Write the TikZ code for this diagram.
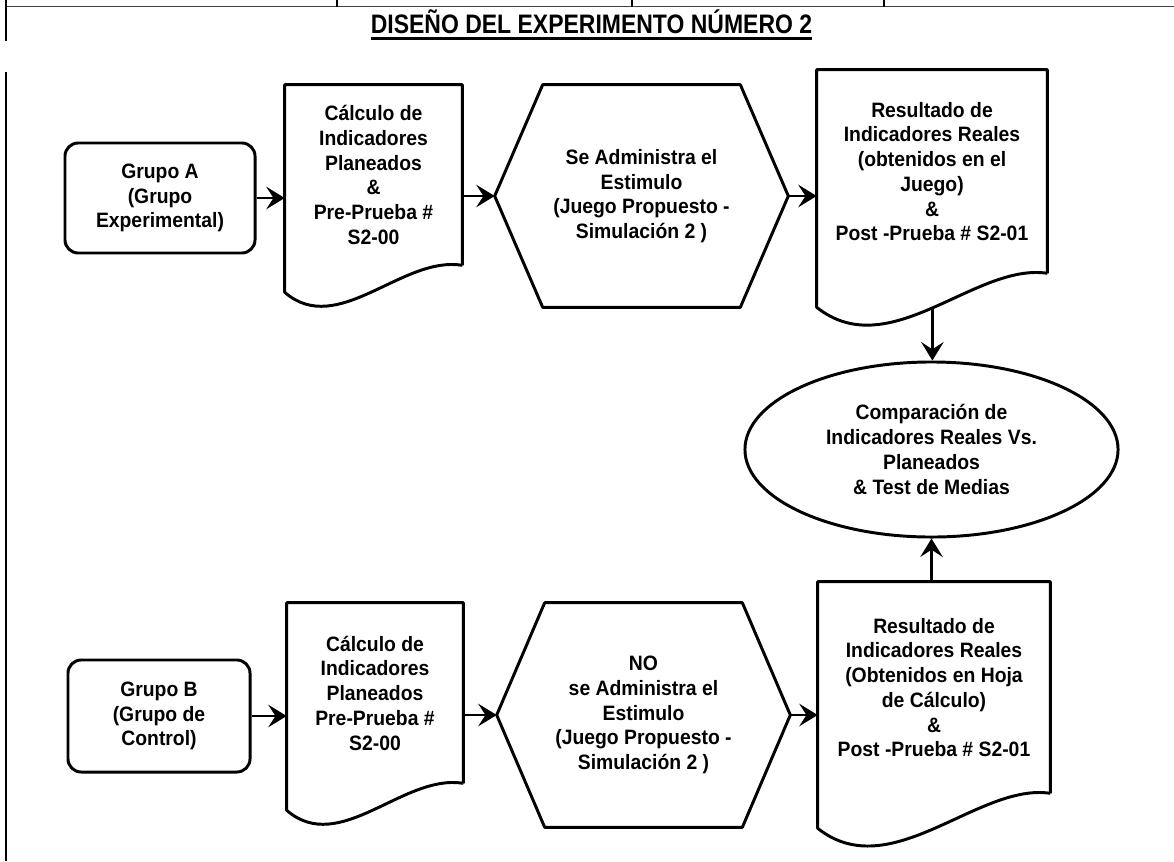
\documentclass[tikz,border=0pt]{standalone}
\usepackage{fontspec}
\setmainfont{Liberation Sans}[FakeStretch=0.93]
\newfontfamily\narrowfont{Liberation Sans}[FakeStretch=0.86]
\usepackage{tikz}
\usetikzlibrary{arrows.meta,shapes.geometric,calc}

\begin{document}
\begin{tikzpicture}[x=0.025cm,y=-0.025cm,
  box/.style={line width=2.1pt,line join=round},
  arr/.style={line width=2.1pt,-{Stealth[length=4.6mm,width=5.6mm,inset=1.8mm]}},
  lbl/.style={align=center,inner sep=0pt,font=\fontsize{14.8}{17.6}\selectfont\bfseries}]
  \useasboundingbox (0,0) rectangle (1174,861);
  \draw[line width=1.4pt,black!75] (6,6.5) -- (1174,6.5);
  \foreach \x in {337,632,884} \draw[line width=1pt] (\x,0) -- (\x,6.5);
  \draw[line width=1.4pt] (6,0) -- (6,41) (6,72) -- (6,861);
  \node[anchor=base,inner sep=0pt,font=\fontsize{19}{22}\narrowfont\bfseries] (ttl) at (591.5,33) {DISEÑO DEL EXPERIMENTO NÚMERO 2};
  \draw[line width=2.4pt] ([yshift=-0.14cm]ttl.base west) -- ([yshift=-0.14cm]ttl.base east);

  \node[lbl,draw,box,rounded corners=0.33cm,minimum width=4.75cm,minimum height=2.75cm] (gA) at (160,198) {Grupo A\\(Grupo\\Experimental)};
  \node[lbl,minimum width=4.425cm,minimum height=4.5cm] (d1) at (373.5,175) {Cálculo de\\Indicadores\\Planeados\\\&\\Pre-Prueba \#\\S2-00};
  \draw[box] (d1.south east) -- (d1.north east) -- (d1.north west) -- ($(d1.south west)+(0,27)$) .. controls +(53,46) and +(-60,-10) .. (d1.south east);
  \node[lbl,minimum width=7.325cm,minimum height=5.55cm] (h1) at (641.5,196) {Se Administra el\\Estimulo\\(Juego Propuesto -\\Simulación 2 )};
  \draw[box] (h1.west) -- ($(h1.north west)+(48,0)$) -- ($(h1.north east)+(-48,0)$) -- (h1.east) -- ($(h1.south east)+(-48,0)$) -- ($(h1.south west)+(48,0)$) -- cycle;
  \node[lbl,minimum width=5.75cm,minimum height=5.075cm] (d2) at (932,171.5) {Resultado de\\Indicadores Reales\\(obtenidos en el\\Juego)\\\&\\Post -Prueba \# S2-01};
  \draw[box] (d2.south east) -- (d2.north east) -- (d2.north west) -- ($(d2.south west)+(0,34)$) .. controls +(73,58) and +(-72,-11) .. (d2.south east) coordinate[pos=0.5] (d2b);

  \node[lbl,draw,box,ellipse,minimum width=9.325cm,minimum height=4.375cm] (ell) at (931.5,449.5) {Comparación de\\Indicadores Reales Vs.\\Planeados\\\& Test de Medias};

  \node[lbl,draw,box,rounded corners=0.33cm,minimum width=4.55cm,minimum height=2.8cm] (gB) at (159,716) {Grupo B\\(Grupo de\\Control)};
  \node[lbl,minimum width=4.4cm,minimum height=4.5cm] (d3) at (375,693) {Cálculo de\\Indicadores\\Planeados\\Pre-Prueba \#\\S2-00};
  \draw[box] (d3.south east) -- (d3.north east) -- (d3.north west) -- ($(d3.south west)+(0,27)$) .. controls +(53,46) and +(-60,-10) .. (d3.south east);
  \node[lbl,minimum width=7.325cm,minimum height=5.6cm] (h2) at (643.5,715) {NO\\se Administra el\\Estimulo\\(Juego Propuesto -\\Simulación 2 )};
  \draw[box] (h2.west) -- ($(h2.north west)+(48,0)$) -- ($(h2.north east)+(-48,0)$) -- (h2.east) -- ($(h2.south east)+(-48,0)$) -- ($(h2.south west)+(48,0)$) -- cycle;
  \node[lbl,minimum width=5.8cm,minimum height=5.275cm] (d4) at (934,687.5) {Resultado de\\Indicadores Reales\\(Obtenidos en Hoja\\de Cálculo)\\\&\\Post -Prueba \# S2-01};
  \draw[box] (d4.south east) -- (d4.north east) -- (d4.north west) -- ($(d4.south west)+(0,35)$) .. controls +(73,58) and +(-72,-11) .. (d4.south east);

  \draw[arr] (gA) -- (gA -| d1.west);
  \draw[arr] (d1.east |- h1.west) -- (h1.west);
  \draw[arr] (h1.east) -- (h1.east -| d2.west);
  \draw[arr] (d2b) -- (d2b |- ell.north);
  \draw[arr] (gB) -- (gB -| d3.west);
  \draw[arr] (d3.east |- h2.west) -- (h2.west);
  \draw[arr] (h2.east) -- (h2.east -| d4.west);
  \draw[arr] (ell.south |- d4.north) -- (ell.south);
\end{tikzpicture}
\end{document}
